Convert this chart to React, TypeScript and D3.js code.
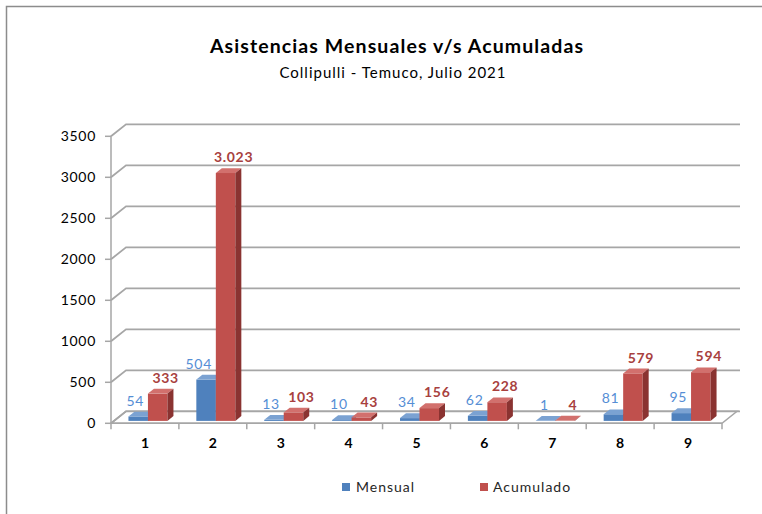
import React from "react";
import * as d3 from "d3";

const categories = ["1", "2", "3", "4", "5", "6", "7", "8", "9"];
const mensual = [54, 504, 13, 10, 34, 62, 1, 81, 95];
const acumulado = [333, 3023, 103, 43, 156, 228, 4, 579, 594];
const mensualLabels = ["54", "504", "13", "10", "34", "62", "1", "81", "95"];
const acumuladoLabels = ["333", "3.023", "103", "43", "156", "228", "4", "579", "594"];
const yTicks = [0, 500, 1000, 1500, 2000, 2500, 3000, 3500];
const seriesNames = ["Mensual", "Acumulado"];

const W = 762;
const H = 514;
const FONT = "Lato, 'Open Sans', sans-serif";

export default function App() {
  const x = d3.scaleBand<string>().domain(categories).range([111, 722]).padding(0);
  const y = d3.scaleLinear().domain([0, 3500]).range([423.3, 136.3]);
  const DX = 15;
  const DY = -12;
  const f0 = 0.2;
  const fd = 0.4;
  const groupW = 39;
  const inner = d3.scaleBand<string>().domain(seriesNames).range([0, groupW]).padding(0);

  const series = [
    { name: "Mensual", values: mensual, labels: mensualLabels, front: "#4F81BD", top: "#7BA2D2", side: "#36608F", label: "#558ED5", weight: 400, lx: -4 },
    { name: "Acumulado", values: acumulado, labels: acumuladoLabels, front: "#C0504D", top: "#D2706D", side: "#8A3331", label: "#A8413E", weight: 700, lx: 5 },
  ];

  const bars: React.ReactNode[] = [];
  const labels: React.ReactNode[] = [];
  categories.forEach((c, i) => {
    const cx = (x(c) as number) + x.bandwidth() / 2;
    series.forEach((s, si) => {
      const bx0 = cx - groupW / 2 + (inner(s.name) as number) + DX * f0;
      const bw = inner.bandwidth();
      const bx1 = bx0 + bw;
      const oy = DY * f0;
      const yTop = y(s.values[i]) + oy;
      const yBot = y(0) + oy;
      const ddx = DX * fd;
      const ddy = DY * fd;
      bars.push(
        <g key={`${c}-${s.name}`}>
          <rect x={bx0} y={yTop} width={bw} height={Math.max(0, yBot - yTop)} fill={s.front} />
          <polygon
            points={`${bx0},${yTop} ${bx1},${yTop} ${bx1 + ddx},${yTop + ddy} ${bx0 + ddx},${yTop + ddy}`}
            fill={s.top}
          />
          <polygon
            points={`${bx1},${yTop} ${bx1 + ddx},${yTop + ddy} ${bx1 + ddx},${yBot + ddy} ${bx1},${yBot}`}
            fill={s.side}
          />
        </g>
      );
      let lxPos = (bx0 + bx1) / 2 + s.lx + ddx / 2;
      if (si === 0) {
        // keep the label clear of the neighbouring taller bar
        const w = s.labels[i].length * 8.7;
        const limit = bx1 - 4;
        if (lxPos + w / 2 > limit) lxPos = limit - w / 2;
      }
      labels.push(
        <text
          key={`l-${c}-${s.name}`}
          x={lxPos}
          y={yTop + ddy - 6}
          textAnchor="middle"
          fontSize={14}
          letterSpacing={0.7}
          fontWeight={s.weight}
          fill={s.label}
        >
          {s.labels[i]}
        </text>
      );
    });
  });

  const grid = "#A6A6A6";
  const x0 = 111;
  const x1 = 722;

  return (
    <div style={{ position: "absolute", left: 0, top: 0 }}>
      <svg width={W} height={H} style={{ display: "block", fontFamily: FONT }}>
        <rect x={0} y={0} width={W} height={H} fill="#fff" />
        <path d={`M6.5,${H} V6.5 H${W}`} fill="none" stroke="#8C8C8C" strokeWidth={1.5} />
        <text x={397} y={53} textAnchor="middle" fontSize={19.5} letterSpacing={1.1} fontWeight={700} fill="#000">
          Asistencias Mensuales v/s Acumuladas
        </text>
        <text x={393} y={77.5} textAnchor="middle" fontSize={15} letterSpacing={1} fill="#000">
          Collipulli - Temuco,  Julio 2021
        </text>

        {/* floor */}
        <polygon
          points={`${x0},${y(0)} ${x1},${y(0)} ${x1 + DX},${y(0) + DY} ${x0 + DX},${y(0) + DY}`}
          fill="#fff"
          stroke={grid}
          strokeWidth={1.5}
        />
        {/* gridlines */}
        {yTicks.map((t) => (
          <path
            key={`g${t}`}
            d={`M${x0},${y(t)} L${x0 + DX},${y(t) + DY} H${x1 + DX + 3}`}
            fill="none"
            stroke={grid}
            strokeWidth={1.8}
          />
        ))}
        {/* y axis */}
        <line x1={x0} x2={x0} y1={y(3500)} y2={y(0)} stroke={grid} strokeWidth={1.5} />
        {yTicks.map((t) => (
          <g key={`t${t}`}>
            <line x1={x0 - 6} x2={x0} y1={y(t)} y2={y(t)} stroke={grid} strokeWidth={1.5} />
            <text x={96} y={y(t)} dy="0.35em" textAnchor="end" fontSize={14} letterSpacing={0.7} fill="#000">
              {t}
            </text>
          </g>
        ))}
        {/* x axis */}
        <line x1={x0} x2={x1} y1={y(0)} y2={y(0)} stroke={grid} strokeWidth={1.5} />
        {[...categories.map((c) => x(c) as number), x1].map((tx, i) => (
          <line key={`xt${i}`} x1={tx} x2={tx} y1={y(0)} y2={y(0) + 6} stroke={grid} strokeWidth={1.5} />
        ))}
        {categories.map((c) => (
          <text
            key={`xl${c}`}
            x={(x(c) as number) + x.bandwidth() / 2}
            y={448}
            textAnchor="middle"
            fontSize={14}
            fontWeight={700}
            fill="#000"
          >
            {c}
          </text>
        ))}

        {bars}
        {labels}

        {/* legend */}
        <rect x={342} y={483} width={8} height={8} fill="#4F81BD" />
        <text x={356} y={491.5} fontSize={14} letterSpacing={1} fill="#262626">Mensual</text>
        <rect x={480} y={483} width={8} height={8} fill="#C0504D" />
        <text x={493} y={491.5} fontSize={14} letterSpacing={1} fill="#262626">Acumulado</text>
      </svg>
    </div>
  );
}
